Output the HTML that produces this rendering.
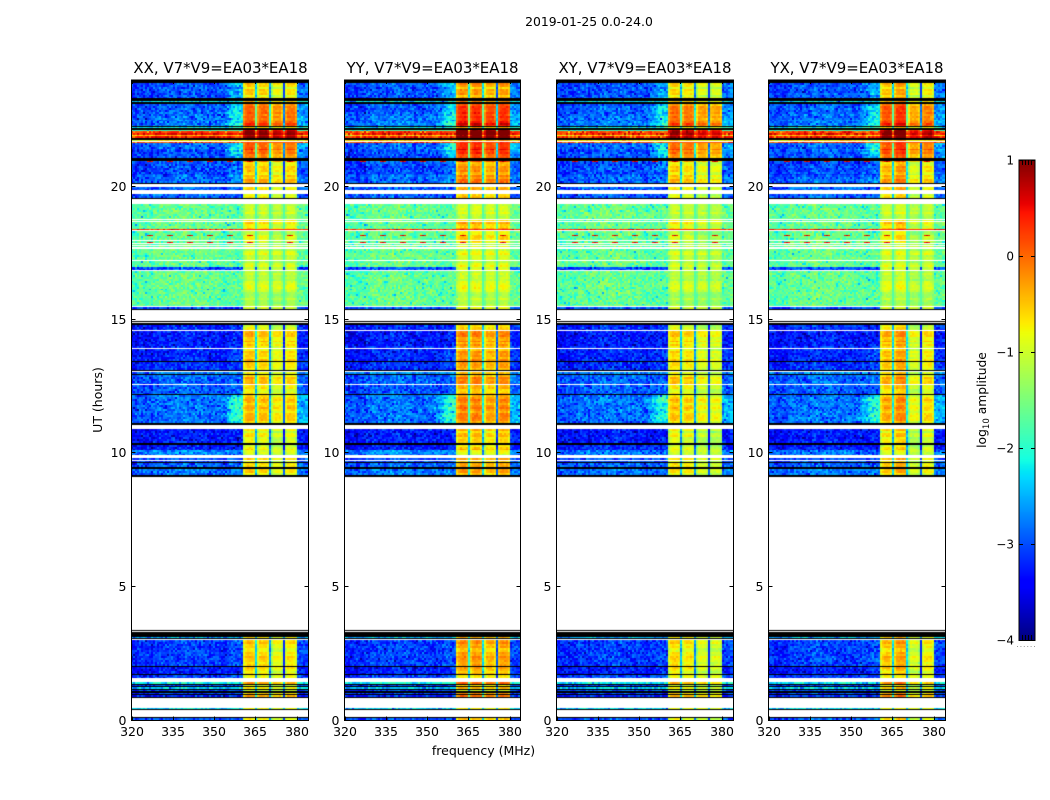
<!DOCTYPE html>
<html lang="en">
<head>
<meta charset="utf-8">
<title>2019-01-25 0.0-24.0</title>
<style>
html,body{margin:0;padding:0;background:#fff;}
#figure{position:relative;width:1050px;height:800px;overflow:hidden;background:#fff;}
canvas{position:absolute;display:block;}
svg{position:absolute;left:0;top:0;}
text{font-family:"DejaVu Sans","Liberation Sans",sans-serif;fill:#000;}
</style>
</head>
<body>
<div id="figure">
  <canvas id="heat0" width="177" height="640" style="left:131px;top:80px"></canvas>
  <canvas id="heat1" width="176" height="640" style="left:344px;top:80px"></canvas>
  <canvas id="heat2" width="177" height="640" style="left:556px;top:80px"></canvas>
  <canvas id="heat3" width="177" height="640" style="left:768px;top:80px"></canvas>
  <canvas id="cbar" width="16" height="480" style="left:1019px;top:160px"></canvas>
  <svg id="overlay" width="1050" height="800" viewBox="0 0 1050 800">
    <text x="589" y="26" text-anchor="middle" font-size="12.4">2019-01-25 0.0-24.0</text>
    <text x="220.5" y="73" text-anchor="middle" font-size="14.95">XX, V7*V9=EA03*EA18</text>
    <text x="432.5" y="73" text-anchor="middle" font-size="14.95">YY, V7*V9=EA03*EA18</text>
    <text x="645" y="73" text-anchor="middle" font-size="14.95">XY, V7*V9=EA03*EA18</text>
    <text x="857" y="73" text-anchor="middle" font-size="14.95">YX, V7*V9=EA03*EA18</text>
    <text x="0" y="0" text-anchor="middle" font-size="12.5" transform="translate(102 400) rotate(-90)">UT (hours)</text>
    <text x="483.5" y="755" text-anchor="middle" font-size="12.5">frequency (MHz)</text>
    <text x="0" y="0" text-anchor="middle" font-size="12.3" transform="translate(986 400) rotate(-90)">log<tspan font-size="8.6" dy="3">10</tspan><tspan dy="-3"> amplitude</tspan></text>
    <line x1="1017" y1="646.5" x2="1035" y2="646.5" stroke="#999" stroke-width="1" stroke-dasharray="1 2.4"/>
  </svg>
</div>
<script>
// ---- Data ----
const panelNames = ["xx", "yy", "xy", "yx"];
const xTickValues = [320, 335, 350, 365, 380];
const yTickValues = [0, 5, 10, 15, 20];
const colorbarTickValues = [1, 0, -1, -2, -3, -4];

// Top edge (UT hours) of each horizontal segment; each runs down to the next top edge, the last to 0.
const segmentTopHours = [
24,23.89,23.31,23.23,23.18,23.10,22.73,22.5,22.46,22.29,
22.24,22.2,22.14,22.09,22.01,21.94,21.9,21.83,21.75,21.71,
21.68,21.62,21.38,21.06,20.96,20.91,20.44,20.14,20.1,19.99,
19.88,19.73,19.59,19.54,19.35,18.81,18.75,18.71,18.68,18.45,
18.41,18.36,18.32,18.19,18.15,18.0,17.96,17.93,17.87,17.85,
17.81,17.78,17.74,17.66,17.25,17.21,16.99,16.89,16.84,16.16,
16.13,15.6,15.56,15.53,15.49,15.41,15.38,14.98,14.93,14.87,
14.83,14.63,14.59,14.19,14.16,14.04,14.01,13.95,13.91,13.48,
13.44,13.13,13.09,13.05,12.96,12.93,12.62,12.58,12.23,12.19,
11.12,11.08,10.91,10.37,10.33,10.16,10.13,9.96,9.81,9.75,
9.71,9.66,9.62,9.47,9.43,9.17,9.13,3.39,3.36,3.3,
3.13,3.08,3.04,3.0,2.03,1.99,1.73,1.69,1.58,1.43,
1.35,1.31,1.26,1.22,1.16,1.13,1.07,1.03,0.98,0.95,
0.86,0.83,0.45,0.41,0.38,0.13,0.09];

// log10 amplitude of the background; null = no data (white), -9 = masked (black)
const segmentBase = [
-9,-3.1,-9,-2.4,-9,-3.05,-2.95,null,-2.9,-9,
-2.3,-9,-2.0,0.1,0.35,-0.6,0.3,-9,-0.8,null,
0.1,-3.0,-3.1,-9,-3.0,-3.15,-3.0,-9,null,-3.0,
null,-3.0,-9,null,-1.75,null,-1.75,null,-1.75,null,
0.3,null,-1.75,-1.75,-1.75,null,-1.75,-1.75,null,-1.75,
null,-1.75,null,-1.75,null,-1.75,-3.1,null,-1.75,null,
-1.75,null,-1.75,null,-3.1,-9,null,-9,null,-9,
-3.3,null,-3.4,-9,-3.4,null,-3.3,null,-3.35,-9,
-3.3,-9,null,-2.8,-9,-3.0,null,-3.05,-9,-2.95,
-9,null,-3.4,-9,-3.4,null,-2.85,null,-3.1,null,
-3.1,-9,-3.0,-9,-2.9,-9,null,-9,null,-9,
-2.6,-9,null,-3.2,-9,-3.4,-9,-3.2,null,-2.3,
-9,-3.2,-9,-2.5,-9,-3.1,-9,-3.2,-9,-3.3,
-9,null,-2.4,-9,null,-9,-3.1];

// Extra log10 amplitude just below the band
const segmentShoulder = [
0,0.6,0,0.2,0,0.8,0.9,0,0.9,0,
0.5,0,0.2,0,0,0,0,0,0,0,
0,1.1,0.9,0,0.3,0.3,0.3,0,0,0,
0,0,0,0,0,0,0,0,0,0,
0,0,0,0,0,0,0,0,0,0,
0,0,0,0,0,0,0,0,0,0,
0,0,0,0,0,0,0,0,0,0,
0.1,0,0.1,0,0.1,0,0.1,0,0.3,0,
0.2,0,0,0.1,0,0.1,0,0.1,0,1.0,
0,0,0.1,0,0.1,0,0,0,0.1,0,
0.1,0,0.1,0,0.1,0,0,0,0,0,
0.1,0,0,0.2,0,0.2,0,0.2,0,0.1,
0,0.1,0,0.1,0,0.1,0,0.1,0,0.1,
0,0,0.1,0,0,0,0.1];

// log10 amplitude inside the 360-380 MHz band
const segmentBand = [
0,-0.6,0,-0.2,0,0,0.1,0,0.3,0,
-0.4,0,0.6,0.85,0.9,0.85,0.9,0,-0.5,0,
0.3,0.2,0.1,0,-0.1,-0.5,-0.4,0,0,-0.65,
0,-0.75,0,0,-1.0,0,-0.9,0,-0.6,0,
0.3,0,-0.85,-0.85,-0.85,0,-0.85,-0.85,0,-0.95,
0,-0.95,0,-0.95,0,-0.95,-1.0,0,-1.0,0,
-1.1,0,-1.1,0,-1.0,0,0,0,0,0,
-0.85,0,-0.45,0,-0.6,0,-0.85,0,-0.55,0,
-0.55,0,0,-0.85,0,-0.45,0,-0.6,0,-0.45,
0,0,-0.75,0,-0.75,0,-1.0,0,-0.55,0,
-0.75,0,-0.65,0,-0.65,0,0,0,0,0,
-0.65,0,0,-0.55,0,-0.65,0,-0.9,0,-0.35,
0,-0.75,0,-0.65,0,-0.9,0,-0.35,0,-0.05,
0,0,-0.9,0,0,0,-0.65];

// Band shape per channel across 360.7-380 MHz (relative log10 amplitude)
const bandChannelShape = [-0.35,-0.1,0,0,0,-0.1,-1.8,-0.3,-0.05,0,0,0,-0.1,-2.0,-0.4,0,0,0,0,-0.2,-2.5,-0.2,0,0,0,0,-0.2];
const bandFirstChannel = [56];
// Sub-band offset per polarisation
const xxSubbandOffsets = [0.05, -0.05, -0.3, -0.15];
const yySubbandOffsets = [0.3, 0.3, 0.1, 0.25];
const xySubbandOffsets = [-0.05, -0.15, -0.35, -0.4];
const yxSubbandOffsets = [0.05, 0.25, -0.4, -0.2];
const shoulderRamp = [0.05,0.1,0.15,0.25,0.4,0.55,0.7,0.8,0.85,0.9,0.9,0.9];
const shoulderFirstChannel = [44];
const baseTilt = [0, 0.12, 0.18, 0.12, 0.04, 0, 0, 0, 0];

// Narrowband interference dashes
const dashRowHours = [20.96, 18.19, 17.93];
const dashChannels = [8,9,10,18,19,20,28,29,30,38,39,40,48,49,50,58,59,60,78,79,80];
const dashLevel = [0.45];

// Estimated channel-to-channel speckle and row ripple (log10 amplitude)
const speckleA = [0.22,-0.31,0.08,0.37,-0.12,-0.44,0.19,0.02,-0.26,0.41,-0.07,0.29,-0.85,0.14,-0.2,0.33,-0.38,0.05,0.24,-0.15,0.44,-0.29,0.11,-0.04,0.35,-0.47,0.17,-0.1,0.27];
const speckleB = [-0.14,0.2,0.05,-0.24,0.16,-0.05,0.28,-0.19,0.09,-0.3,0.12,0.02,-0.1,0.25,-0.22,0.07,0.18,-0.6,0.13,-0.08,0.22,-0.16,0.03];
const bandRowRipple = [0.06,-0.1,0.14,0.02,-0.16,0.1,0.18,-0.05,-0.2,0.08,0.12,-0.12,0.03];

// ---- Scales ----
const plotTop = 80, plotHeight = 640, plotWidth = 176;
const panelLeft = [131.5, 344.5, 556.5, 768.5];
const panelFrameWidth = [177, 176, 177, 177];
const freqMin = 320, freqMax = 384, channelCount = 88, rowStepHours = 0.075;
function xScale(freq) { return (freq - freqMin) / (freqMax - freqMin) * plotWidth; }
function yScale(hour) { return (24 - hour) / 24 * plotHeight; }
function cbarScale(value) { return 160 + (1 - value) / 5 * 480; }

function ramp(t, pts) {
  for (let i = 1; i < pts.length; i++) {
    if (t <= pts[i][0]) {
      const a = pts[i - 1], b = pts[i];
      return a[1] + (b[1] - a[1]) * (t - a[0]) / (b[0] - a[0]);
    }
  }
  return pts[pts.length - 1][1];
}
function jet(value) {
  const t = Math.max(0, Math.min(1, (value + 4) / 5));
  const r = ramp(t, [[0,0],[0.35,0],[0.66,1],[0.89,1],[1,0.5]]);
  const g = ramp(t, [[0,0],[0.125,0],[0.375,1],[0.64,1],[0.91,0],[1,0]]);
  const b = ramp(t, [[0,0.5],[0.11,1],[0.34,1],[0.65,0],[1,0]]);
  return "rgb(" + Math.round(r * 255) + "," + Math.round(g * 255) + "," + Math.round(b * 255) + ")";
}

const panelOffsets = [xxSubbandOffsets, yySubbandOffsets, xySubbandOffsets, yxSubbandOffsets];

function cellValue(panel, seg, r, c) {
  const base = segmentBase[seg];
  const i = (r * r * 7 + c * c * 3 + r * c * 5 + panel * 13 + r + 2 * c) % speckleA.length;
  const j = (r * r * 3 + c * c * 11 + r * c * 2 + panel * 5 + 3 * r + c) % speckleB.length;
  const noise = speckleA[i] + speckleB[j];
  const rip = bandRowRipple[(r * r * 2 + r + seg * 5) % bandRowRipple.length];
  const bandIdx = c - bandFirstChannel[0];
  if (bandIdx >= 0 && bandIdx < bandChannelShape.length) {
    const sub = Math.min(3, Math.floor(bandIdx / 7));
    const band = segmentBand[seg];
    const weight = band < -0.85 ? 0.3 : 1;
    const value = band + panelOffsets[panel][sub] * weight + bandChannelShape[bandIdx] + rip + noise * 0.2;
    return Math.max(value, base);
  }
  if (c >= bandFirstChannel[0] + bandChannelShape.length) {
    return base + 0.1 + segmentShoulder[seg] * 0.35 + noise * 0.6;
  }
  let v = base + baseTilt[Math.floor(c / 11)] + noise * 0.65;
  const rampIdx = c - shoulderFirstChannel[0];
  if (rampIdx >= 0) {
    v += segmentShoulder[seg] * (shoulderRamp[rampIdx] + rip);
  }
  return v;
}

function drawHeatmap(panel) {
  const canvas = document.getElementById("heat" + panel);
  const ctx = canvas.getContext("2d");
  ctx.fillStyle = "#fff";
  ctx.fillRect(0, 0, canvas.width, plotHeight);
  const chanWidth = (freqMax - freqMin) / channelCount;
  function cellLeft(c) { return Math.round(xScale(freqMin + c * chanWidth)); }
  function cellRight(c) { return c === channelCount - 1 ? canvas.width : Math.round(xScale(freqMin + (c + 1) * chanWidth)); }
  for (let s = 0; s < segmentTopHours.length; s++) {
    const base = segmentBase[s];
    if (base === null) continue;
    const top = segmentTopHours[s];
    const bottom = s + 1 < segmentTopHours.length ? segmentTopHours[s + 1] : 0;
    if (base === -9) {
      const y0 = Math.round(yScale(top));
      const y1 = Math.max(y0 + 1, Math.round(yScale(bottom)));
      ctx.fillStyle = "#000";
      ctx.fillRect(0, y0, canvas.width, y1 - y0);
      continue;
    }
    for (let h = top; h > bottom + 1e-6; h -= rowStepHours) {
      const r = Math.round(h / rowStepHours);
      const y0 = Math.round(yScale(h));
      const y1 = Math.max(y0 + 1, Math.round(yScale(Math.max(bottom, h - rowStepHours))));
      for (let c = 0; c < channelCount; c++) {
        const x0 = cellLeft(c);
        ctx.fillStyle = jet(cellValue(panel, s, r, c));
        ctx.fillRect(x0, y0, cellRight(c) - x0, y1 - y0);
      }
    }
  }
  dashRowHours.forEach(function (hour) {
    const y0 = Math.round(yScale(hour));
    const y1 = Math.max(y0 + 1, Math.round(yScale(hour - 0.04)));
    dashChannels.forEach(function (c, k) {
      const x0 = cellLeft(c);
      ctx.fillStyle = jet(k % 3 === 1 ? dashLevel[0] + 0.3 : dashLevel[0]);
      ctx.fillRect(x0, y0, cellRight(c) - x0, y1 - y0);
    });
  });
}

function drawColorbar() {
  const ctx = document.getElementById("cbar").getContext("2d");
  for (let y = 0; y < 480; y++) {
    ctx.fillStyle = jet(1 - (y + 0.5) / 480 * 5);
    ctx.fillRect(0, y, 16, 1);
  }
}

const svgNS = "http://www.w3.org/2000/svg";
const overlay = document.getElementById("overlay");
function addLine(x1, y1, x2, y2, color) {
  const el = document.createElementNS(svgNS, "line");
  el.setAttribute("x1", x1);
  el.setAttribute("y1", y1);
  el.setAttribute("x2", x2);
  el.setAttribute("y2", y2);
  el.setAttribute("stroke", color || "#000");
  el.setAttribute("stroke-width", "1");
  overlay.appendChild(el);
  return el;
}
function addText(x, y, str, anchor, size) {
  const el = document.createElementNS(svgNS, "text");
  el.setAttribute("x", x);
  el.setAttribute("y", y);
  el.setAttribute("text-anchor", anchor);
  el.setAttribute("font-size", size);
  el.textContent = str;
  overlay.appendChild(el);
  return el;
}

function drawAxes(panel) {
  const left = panelLeft[panel];
  const right = left + panelFrameWidth[panel];
  const top = plotTop;
  const bottom = plotTop + plotHeight + 0.5;
  const frame = document.createElementNS(svgNS, "rect");
  frame.setAttribute("x", left);
  frame.setAttribute("y", top);
  frame.setAttribute("width", right - left);
  frame.setAttribute("height", bottom - top);
  frame.setAttribute("fill", "none");
  frame.setAttribute("stroke", "#000");
  frame.setAttribute("stroke-width", "1");
  
  
  overlay.appendChild(frame);
  xTickValues.forEach(function (f) {
    const x = Math.round(left + xScale(f)) + 0.5;
    const t1 = addLine(x, bottom, x, bottom - 4);
    
    
    const t2 = addLine(x, top, x, top + 4);
    
    
    const label = addText(x - 0.5, 736, String(f), "middle", 12.5);
    
    
  });
  yTickValues.forEach(function (h) {
    const y = Math.round(plotTop + yScale(h)) - 0.5 + (h === 0 ? 1 : 0);
    const t1 = addLine(left, y, left + 4, y);
    
    
    const t2 = addLine(right, y, right - 4, y);
    
    
    const label = addText(left - 5, y + 4.5, String(h), "end", 12.5);
    
    
  });
}

function drawColorbarAxes() {
  const frame = document.createElementNS(svgNS, "rect");
  frame.setAttribute("x", 1019);
  frame.setAttribute("y", 160);
  frame.setAttribute("width", 16);
  frame.setAttribute("height", 480.5);
  frame.setAttribute("fill", "none");
  frame.setAttribute("stroke", "#000");
  frame.setAttribute("stroke-width", "1");
  
  
  overlay.appendChild(frame);
  colorbarTickValues.forEach(function (v) {
    const y = Math.round(cbarScale(v)) + 0.5;
    const label = addText(1014, y + 4, String(v).replace("-", "\u2212"), "end", 12);
    
    
    const t1 = addLine(1019, y, 1023, y);
    
    
    const t2 = addLine(1035, y, 1031, y);
    
    
  });
  [1022.5, 1025.5, 1028.5, 1031.5].forEach(function (x) {
    const t1 = addLine(x, 160, x, 165);
    
    
    const t2 = addLine(x, 640, x, 635);
    
    
  });
}

for (let p = 0; p < 4; p++) {
  drawHeatmap(p);
  drawAxes(p);
}
drawColorbar();
drawColorbarAxes();
</script>
</body>
</html>
